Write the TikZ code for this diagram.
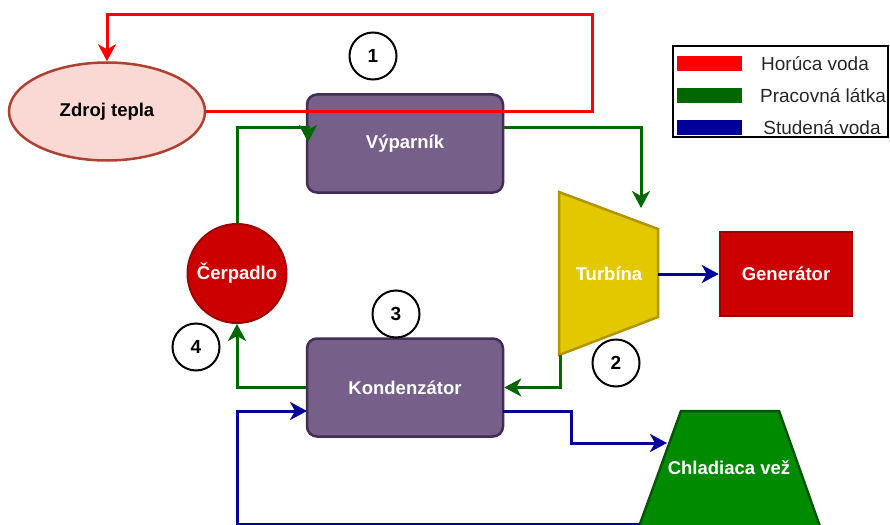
\documentclass[tikz,border=0pt]{standalone}
\usepackage{fontspec}
\setmainfont{Liberation Sans}
\usetikzlibrary{arrows.meta,shapes.geometric}

\definecolor{horuca}{HTML}{FF0000}
\definecolor{pracovna}{HTML}{006600}
\definecolor{studena}{HTML}{000099}
\definecolor{fialova}{HTML}{76608A}
\definecolor{fialovaD}{HTML}{432D57}
\definecolor{ruzova}{HTML}{FAD9D5}
\definecolor{hneda}{HTML}{AE4132}
\definecolor{cervena}{HTML}{CC0000}
\definecolor{cervenaD}{HTML}{9E0000}
\definecolor{zlta}{HTML}{E3C800}
\definecolor{zltaD}{HTML}{B09500}
\definecolor{zelena}{HTML}{008A00}
\definecolor{zelenaD}{HTML}{005700}

\begin{document}
\begin{tikzpicture}[x=1pt, y=-1pt,
    every node/.style={font=\fontsize{18.5}{20}\selectfont\bfseries, text=white, inner sep=0pt},
    sipka/.style={-{Stealth[length=17pt,width=18pt,inset=5pt]}, line width=3pt},
    hot/.style={sipka, draw=horuca},
    work/.style={sipka, draw=pracovna},
    cold/.style={sipka, draw=studena},
    zariadenie/.style={rectangle, rounded corners=10pt, draw=fialovaD, fill=fialova, line width=2.5pt, minimum width=196pt, minimum height=98pt},
    cislo/.style={circle, draw=black, line width=2pt, fill=white, text=black, minimum size=47pt, font=\fontsize{19}{20}\selectfont\bfseries},
    legenda/.style={text=black!85, font=\fontsize{19}{21}\selectfont}]
    \useasboundingbox (0,0) rectangle (890,524);
    \clip (0,0) rectangle (890,524);

    % Zdroj tepla a výparník
    \node[ellipse, draw=hneda, fill=ruzova, line width=2.5pt, minimum width=196pt, minimum height=98pt, text=black] (zdroj) at (107,111.5) {Zdroj tepla};
    \node[zariadenie] (vyp) at (405,143.5) {Výparník};

    % Okruh horúcej vody
    \coordinate (hotRoh) at (592,15);
    \draw[hot] (zdroj.east) -| (hotRoh) -| (zdroj.north);

    % Turbína (lichobežník)
    \draw[line width=2.5pt, draw=zltaD, fill=zlta] (559,192) -- (658,229) -- (658,317) -- (559,355) -- cycle;
    \node (turbina) at (609,274) {Turbína};
    \coordinate (turbinaVstup) at (641,208);
    \coordinate (turbinaVystup) at (560,355);
    \coordinate (turbinaHriadel) at (658,274);

    % Generátor
    \node[rectangle, draw=cervenaD, fill=cervena, line width=2.5pt, minimum width=132pt, minimum height=84pt] (gen) at (786,274) {Generátor};

    % Čerpadlo a kondenzátor
    \node[circle, draw=cervenaD, fill=cervena, line width=2pt, minimum size=99pt] (cerp) at (237,273.5) {Čerpadlo};
    \node[zariadenie] (kond) at (405,387.5) {Kondenzátor};

    % Chladiaca veža
    \draw[line width=2.5pt, draw=zelenaD, fill=zelena] (681,411) -- (779,411) -- (820.5,528) -- (638.5,528) -- cycle;
    \node (veza) at (729,468) {Chladiaca vež};
    \coordinate (vezaVstup) at (667,443);
    \coordinate (vezaVystup) at (640,524);

    % Pracovná látka
    \coordinate (vypVstup) at (308,127);
    \coordinate (vypHrot) at (308,142);
    \draw[work] (cerp.north) |- (vypVstup) -- (vypHrot);
    \draw[work] (vyp.east |- vypVstup) -| (turbinaVstup);
    \draw[work] (turbinaVystup) |- (kond.east);
    \draw[work] (kond.west) -| (cerp.south);

    % Studená voda
    \coordinate (kondVystup) at (503,411);
    \coordinate (studRoh) at (571,443);
    \coordinate (studDole) at (237,524);
    \coordinate (kondVstup) at (307,411);
    \draw[cold] (turbinaHriadel) -- (gen.west);
    \draw[cold] (kondVystup) -| (studRoh) -- (vezaVstup);
    \draw[cold] (vezaVystup) -- (studDole) |- (kondVstup);

    % Čísla stavov
    \node[cislo] (c1) at (373,56) {1};
    \node[cislo] (c2) at (616,363) {2};
    \node[cislo] (c3) at (396,314) {3};
    \node[cislo] (c4) at (196,347) {4};

    % Legenda
    \draw[line width=2.5pt] (673,46) rectangle (888,137);
    \fill[horuca] (677,56) rectangle (742,71);
    \fill[pracovna] (677,88) rectangle (742,103);
    \fill[studena] (677,120) rectangle (742,135);
    \node[legenda] (legHor) at (815,64) {Horúca voda};
    \node[legenda] (legPrac) at (823,96) {Pracovná látka};
    \node[legenda] (legStud) at (822,128) {Studená voda};
\end{tikzpicture}
\end{document}
